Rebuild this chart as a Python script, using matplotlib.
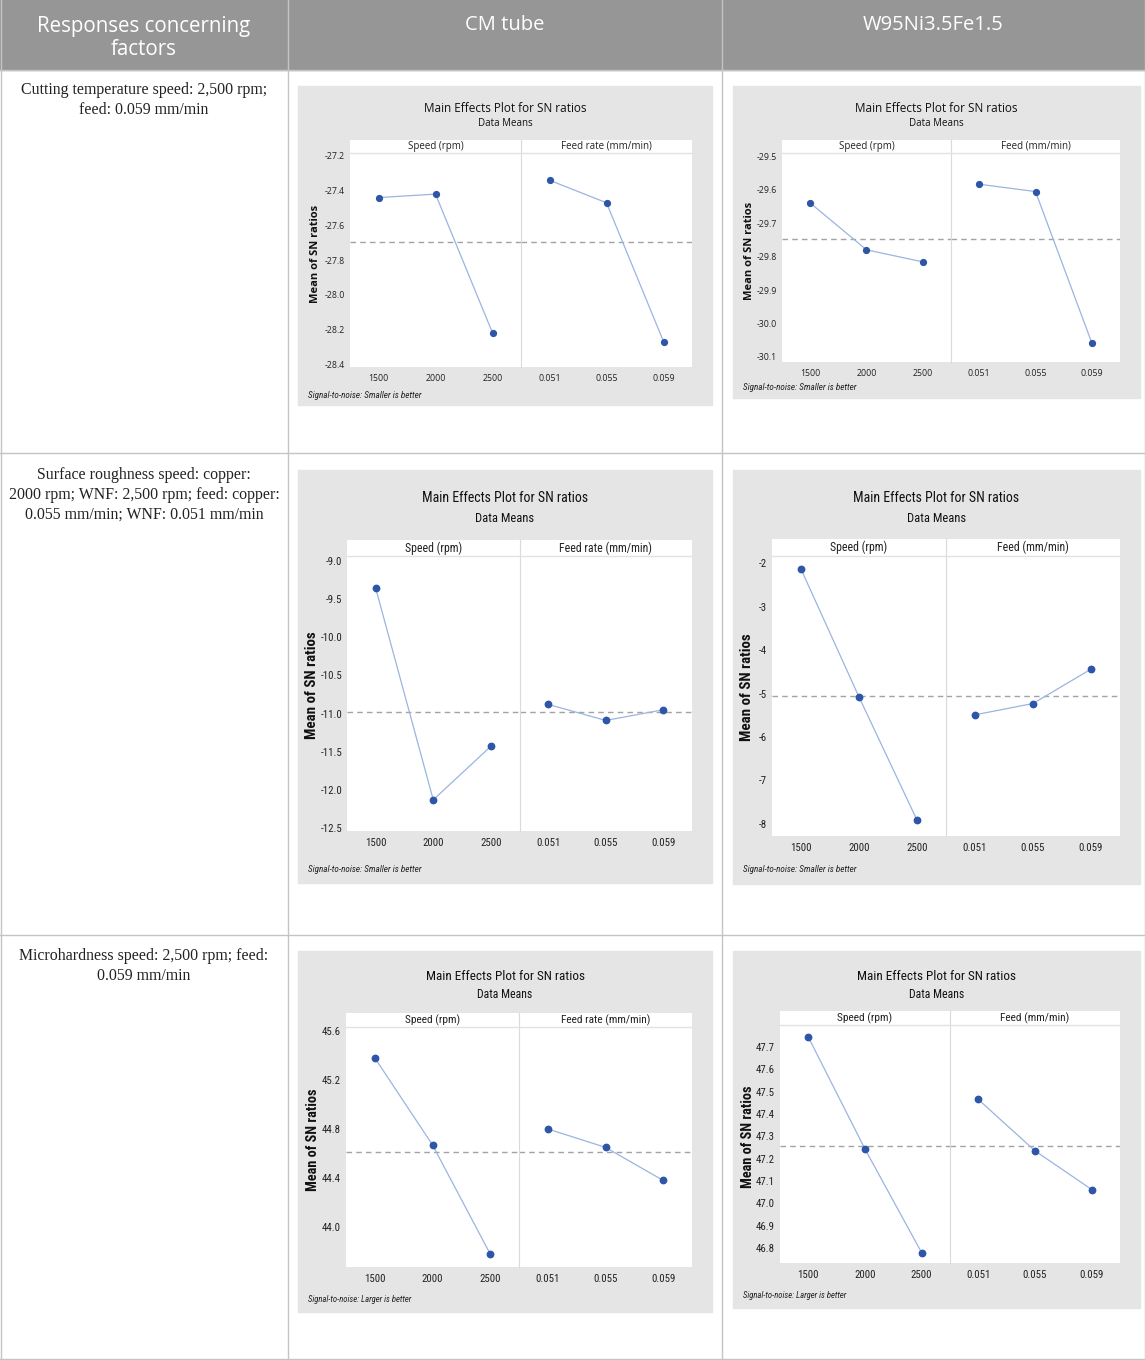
import numpy as np
import matplotlib
matplotlib.use("Agg")
import matplotlib.pyplot as plt
from matplotlib.patches import Rectangle
from matplotlib.ticker import FormatStrFormatter

# ---------------- data ----------------
speed_levels = ["1500", "2000", "2500"]
feed_levels = ["0.051", "0.055", "0.059"]

cm_temp_speed = [-27.44, -27.42, -28.22]
cm_temp_feed = [-27.34, -27.47, -28.27]
wnf_temp_speed = [-29.64, -29.78, -29.816]
wnf_temp_feed = [-29.584, -29.606, -30.058]

cm_rough_speed = [-9.36, -12.13, -11.43]
cm_rough_feed = [-10.88, -11.09, -10.95]
wnf_rough_speed = [-2.14, -5.08, -7.91]
wnf_rough_feed = [-5.49, -5.23, -4.44]

cm_hard_speed = [45.38, 44.67, 43.78]
cm_hard_feed = [44.80, 44.65, 44.38]
wnf_hard_speed = [47.744, 47.243, 46.779]
wnf_hard_feed = [47.465, 47.235, 47.062]

col_titles = ["Responses concerning\nfactors", "CM tube", "W95Ni3.5Fe1.5"]
row_texts = [
    "Cutting temperature speed: 2,500 rpm;\nfeed: 0.059 mm/min",
    "Surface roughness speed: copper:\n2000 rpm; WNF: 2,500 rpm; feed: copper:\n0.055 mm/min; WNF: 0.051 mm/min",
    "Microhardness speed: 2,500 rpm; feed:\n0.059 mm/min",
]

W, H = 1145, 1360
fig = plt.figure(figsize=(W / 100, H / 100), dpi=100)
narrow = ["Roboto Condensed", "Liberation Sans Narrow", "DejaVu Sans"]


def box(x0, y0, x1, y1):
    # pixel box (top-left origin) -> figure fraction
    return [x0 / W, 1 - y1 / H, (x1 - x0) / W, (y1 - y0) / H]


# ---------------- the table ----------------
tab = fig.add_axes([0, 0, 1, 1])
tab.set_xlim(0, W)
tab.set_ylim(H, 0)
tab.axis("off")

tab.add_patch(Rectangle((0, 0), W, 70, color="#969696", zorder=0))
grid_c = "#c4c4c4"
for x in [0.5, 288, 722, W - 0.5]:
    tab.plot([x, x], [0, H - 1], color=grid_c, lw=1, zorder=1)
for y in [70, 453, 935, H - 1.5]:
    tab.plot([0, W], [y, y], color=grid_c, lw=1, zorder=1)

tab.text(144, 38, col_titles[0], ha="center", va="center", color="white",
         fontsize=14.8, family="Open Sans", linespacing=1.15)
tab.text(505, 25, col_titles[1], ha="center", va="center", color="white",
         fontsize=14.5, family="Open Sans")
tab.text(933, 25, col_titles[2], ha="center", va="center", color="white",
         fontsize=14.5, family="Open Sans")

for txt, y in zip(row_texts, [82, 467, 948]):
    tab.text(144, y, txt, ha="center", va="top", fontsize=11.4,
             family="Liberation Serif", color="#222222", linespacing=1.33)


# ---------------- one main-effects panel ----------------
def panel(bg, white, strip_h, speed, feed, feed_title, ylim, yticks, fmt,
          note, style):
    (fam, stretch, t_sz, s_sz, st_sz, tk_sz, yl_sz, yl_x, n_sz, ms,
     t_off, s_off, n_off) = style
    fp = dict(family=fam, fontstretch=stretch)
    x0, y0, x1, y1 = bg
    tab.add_patch(Rectangle((x0, y0), x1 - x0, y1 - y0, color="#e5e5e5", zorder=2))
    wx0, wy0, wx1, wy1 = white
    mid = (wx0 + wx1) / 2
    grand = np.mean(speed + feed)
    f_strip = 1 - strip_h / (wy1 - wy0)

    axes = []
    for (a, b), vals, levels, title in [((wx0, mid), speed, speed_levels, "Speed (rpm)"),
                                         ((mid, wx1), feed, feed_levels, feed_title)]:
        ax = fig.add_axes(box(a, wy0, b, wy1))
        ax.set_facecolor("white")
        ax.set_xlim(-0.5, 2.5)
        ax.set_ylim(*ylim)
        for s in ax.spines.values():
            s.set_visible(False)
        ax.axhline(grand, color="#a3a3a3", lw=1, ls=(0, (4, 3)), zorder=1)
        ax.plot(range(3), vals, color="#9bb4e0", lw=0.9, marker="o", ms=ms,
                mfc="#2d55a8", mec="#2d55a8", zorder=3)
        ax.set_xticks(range(3))
        ax.set_xticklabels(levels, fontsize=tk_sz, color="#222222", **fp)
        ax.tick_params(axis="x", length=0, pad=5)
        ax.plot([0, 1], [f_strip, f_strip], transform=ax.transAxes,
                color="#e2e2e2", lw=1, zorder=4)
        ax.text(0.5, (1 + f_strip) / 2, title, transform=ax.transAxes,
                ha="center", va="center", fontsize=st_sz, color="#222222", **fp)
        axes.append(ax)

    left, right = axes
    left.set_yticks(yticks)
    left.yaxis.set_major_formatter(FormatStrFormatter(fmt))
    left.tick_params(axis="y", length=0, pad=3.5, labelsize=tk_sz, labelcolor="#222222")
    for lab in left.get_yticklabels():
        lab.set_family(fam)
        lab.set_fontstretch(stretch)
    right.set_yticks([])
    right.spines["left"].set_visible(True)
    right.spines["left"].set_color("#dadada")

    cx = (x0 + x1) / 2
    tab.text(cx, y0 + t_off, "Main Effects Plot for SN ratios", ha="center", va="center",
             fontsize=t_sz, color="#111111", zorder=5, **fp)
    tab.text(cx, y0 + s_off, "Data Means", ha="center", va="center",
             fontsize=s_sz, color="#111111", zorder=5, **fp)
    tab.text(x0 + yl_x, (wy0 + wy1) / 2, "Mean of SN ratios", rotation=90,
             ha="center", va="center", fontsize=yl_sz, color="#111111",
             fontweight="bold", zorder=5, **fp)
    tab.text(x0 + 10, y1 - n_off, note, ha="left", va="center", family=narrow,
             fontstretch="condensed", fontsize=n_sz, style="italic",
             color="#222222", zorder=5)


# family, stretch, title, subtitle, strip, ticks, ylabel size, ylabel x, note,
# marker size, title / subtitle / note offsets
small = ("Open Sans", "normal", 8.5, 7, 7, 6.3, 8, 17, 6.6, 4.2, 22, 38, 10)
tall2 = (narrow, "condensed", 10, 9, 8.5, 7.8, 10.8, 14, 6.6, 4.6, 28, 49, 14)
tall3 = (narrow, "condensed", 9.5, 8.5, 8.2, 7.8, 10.3, 15, 6.2, 4.6, 26, 44, 12)

panel((298, 86, 712, 405), (350, 140, 692, 367), 13, cm_temp_speed, cm_temp_feed,
      "Feed rate (mm/min)", (-28.417, -27.108),
      [-27.2, -27.4, -27.6, -27.8, -28.0, -28.2, -28.4], "%.1f",
      "Signal-to-noise: Smaller is better", small)
panel((733, 86, 1140, 398), (782, 140, 1120, 362), 13, wnf_temp_speed, wnf_temp_feed,
      "Feed (mm/min)", (-30.115, -29.452),
      [-29.5, -29.6, -29.7, -29.8, -29.9, -30.0, -30.1], "%.1f",
      "Signal-to-noise: Smaller is better", small)

panel((298, 470, 712, 883), (347, 540, 692, 831), 16, cm_rough_speed, cm_rough_feed,
      "Feed rate (mm/min)", (-12.539, -8.725),
      [-9.0, -9.5, -10.0, -10.5, -11.0, -11.5, -12.0, -12.5], "%.1f",
      "Signal-to-noise: Smaller is better", tall2)
panel((733, 470, 1140, 884), (772, 539, 1120, 836), 17, wnf_rough_speed, wnf_rough_feed,
      "Feed (mm/min)", (-8.276, -1.448),
      [-2, -3, -4, -5, -6, -7, -8], "%.0f",
      "Signal-to-noise: Smaller is better", tall2)

panel((298, 951, 712, 1312), (346, 1013, 692, 1267), 14, cm_hard_speed, cm_hard_feed,
      "Feed rate (mm/min)", (43.673, 45.747),
      [45.6, 45.2, 44.8, 44.4, 44.0], "%.1f",
      "Signal-to-noise: Larger is better", tall3)
panel((733, 951, 1140, 1308), (780, 1011, 1120, 1263), 14, wnf_hard_speed, wnf_hard_feed,
      "Feed (mm/min)", (46.733, 47.861),
      [47.7, 47.6, 47.5, 47.4, 47.3, 47.2, 47.1, 47.0, 46.9, 46.8], "%.1f",
      "Signal-to-noise: Larger is better", tall3)

fig.savefig("out.png", dpi=100)
